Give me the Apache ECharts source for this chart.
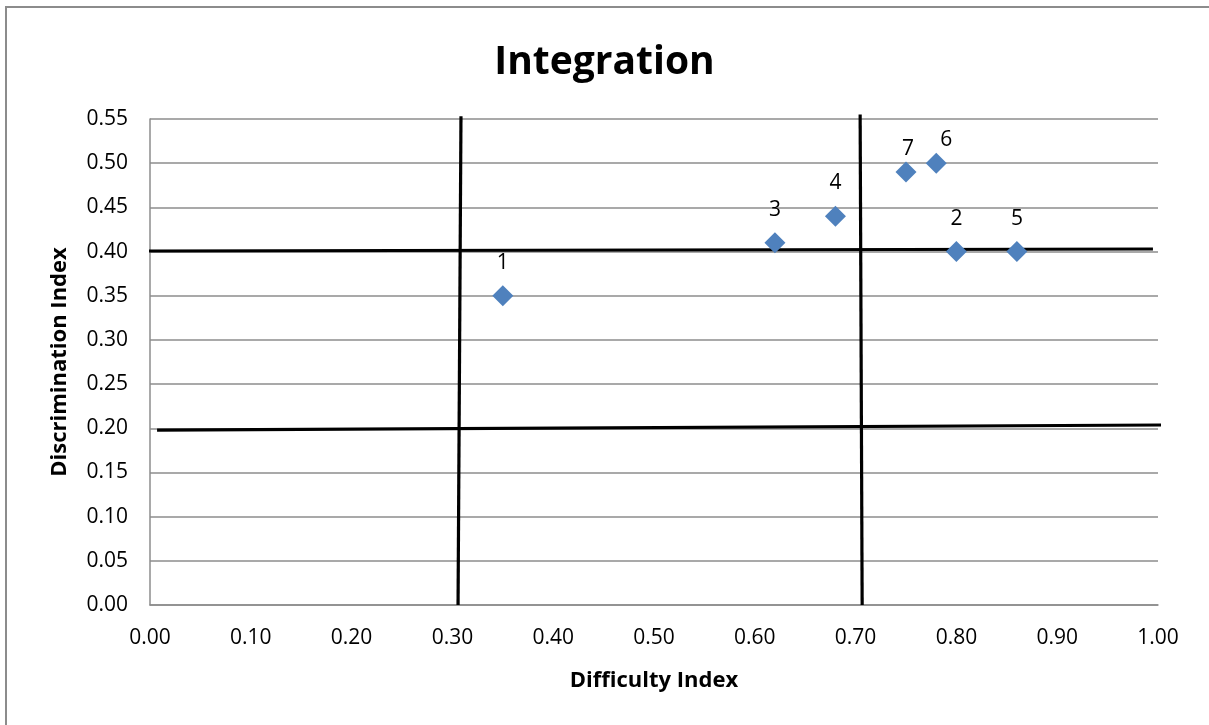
<!DOCTYPE html>
<html><head><meta charset="utf-8">
<script src="https://cdn.jsdelivr.net/npm/echarts@6/dist/echarts.min.js"></script>
<style>html,body{margin:0;padding:0;background:#fff}#c{width:1209px;height:725px}</style>
</head><body><div id="c"></div>
<script>
const itemLabels = ['1','2','3','4','5','6','7'];
const difficulty = [0.35, 0.80, 0.62, 0.68, 0.86, 0.78, 0.75];
const discrimination = [0.35, 0.40, 0.41, 0.44, 0.40, 0.50, 0.49];
const xTicks = [0, 1, 0.1];
const yTicks = [0, 0.55, 0.05];
// hand-drawn reference lines (approximate endpoints in data units)
const refLineV1 = [[0.3056, 0], [0.3085, 0.553]];
const refLineV2 = [[0.7065, 0], [0.7045, 0.555]];
const refLineH1 = [[-0.001, 0.4006], [0.995, 0.4029]];
const refLineH2 = [[0.007, 0.198], [1.005, 0.2037]];

const font = '"Open Sans", "Liberation Sans", sans-serif';
const chart = echarts.init(document.getElementById('c'));
const lineSeries = (d) => ({
  type: 'line', data: d, symbol: 'none', clip: false, silent: true, z: 3,
  lineStyle: { color: '#000', width: 3.2 }
});
const labelOffsets = { '6': [10, 10], '7': [2, 10] };
const pts = difficulty.map((x, i) => {
  const o = { value: [x, discrimination[i]], name: itemLabels[i] };
  if (labelOffsets[itemLabels[i]]) o.label = { offset: labelOffsets[itemLabels[i]] };
  return o;
});
chart.setOption({
  animation: false,
  backgroundColor: '#fff',
  title: {
    text: 'Integration', left: 'center', top: 38,
    textStyle: { fontFamily: font, fontWeight: 'bold', fontSize: 39, color: '#000' }
  },
  graphic: [{
    type: 'rect', shape: { x: 6, y: 7, width: 1220, height: 730 },
    style: { fill: 'none', stroke: '#8c8c8c', lineWidth: 2 }, silent: true
  }],
  grid: { left: 150, right: 51, top: 119, bottom: 120 },
  xAxis: {
    type: 'value', min: xTicks[0], max: xTicks[1], interval: xTicks[2],
    name: 'Difficulty Index', nameLocation: 'middle', nameGap: 65,
    nameTextStyle: { fontFamily: font, fontWeight: 'bold', fontSize: 22, color: '#000' },
    axisLine: { show: true, lineStyle: { color: '#8c8c8c', width: 1.5 } },
    axisTick: { show: false },
    splitLine: { show: false },
    axisLabel: { fontFamily: font, fontSize: 21, color: '#000', margin: 23,
      formatter: v => v.toFixed(2) }
  },
  yAxis: {
    type: 'value', min: yTicks[0], max: yTicks[1], interval: yTicks[2],
    name: 'Discrimination Index', nameLocation: 'middle', nameGap: 79,
    nameTextStyle: { fontFamily: font, fontWeight: 'bold', fontSize: 22, color: '#000' },
    axisLine: { show: true, lineStyle: { color: '#8c8c8c', width: 1.5 } },
    axisTick: { show: false },
    splitLine: { show: true, lineStyle: { color: '#8c8c8c', width: 1.5 } },
    axisLabel: { fontFamily: font, fontSize: 21, color: '#000', margin: 22,
      formatter: v => v.toFixed(2) }
  },
  series: [
    lineSeries(refLineV1), lineSeries(refLineV2), lineSeries(refLineH1), lineSeries(refLineH2),
    {
      type: 'scatter', data: pts, symbol: 'diamond', symbolSize: 21, z: 5,
      itemStyle: { color: '#4F81BD', opacity: 1 },
      label: { show: true, position: 'top', distance: 12, formatter: p => p.name,
        fontFamily: font, fontSize: 21, color: '#000' }
    }
  ]
});
</script></body></html>
